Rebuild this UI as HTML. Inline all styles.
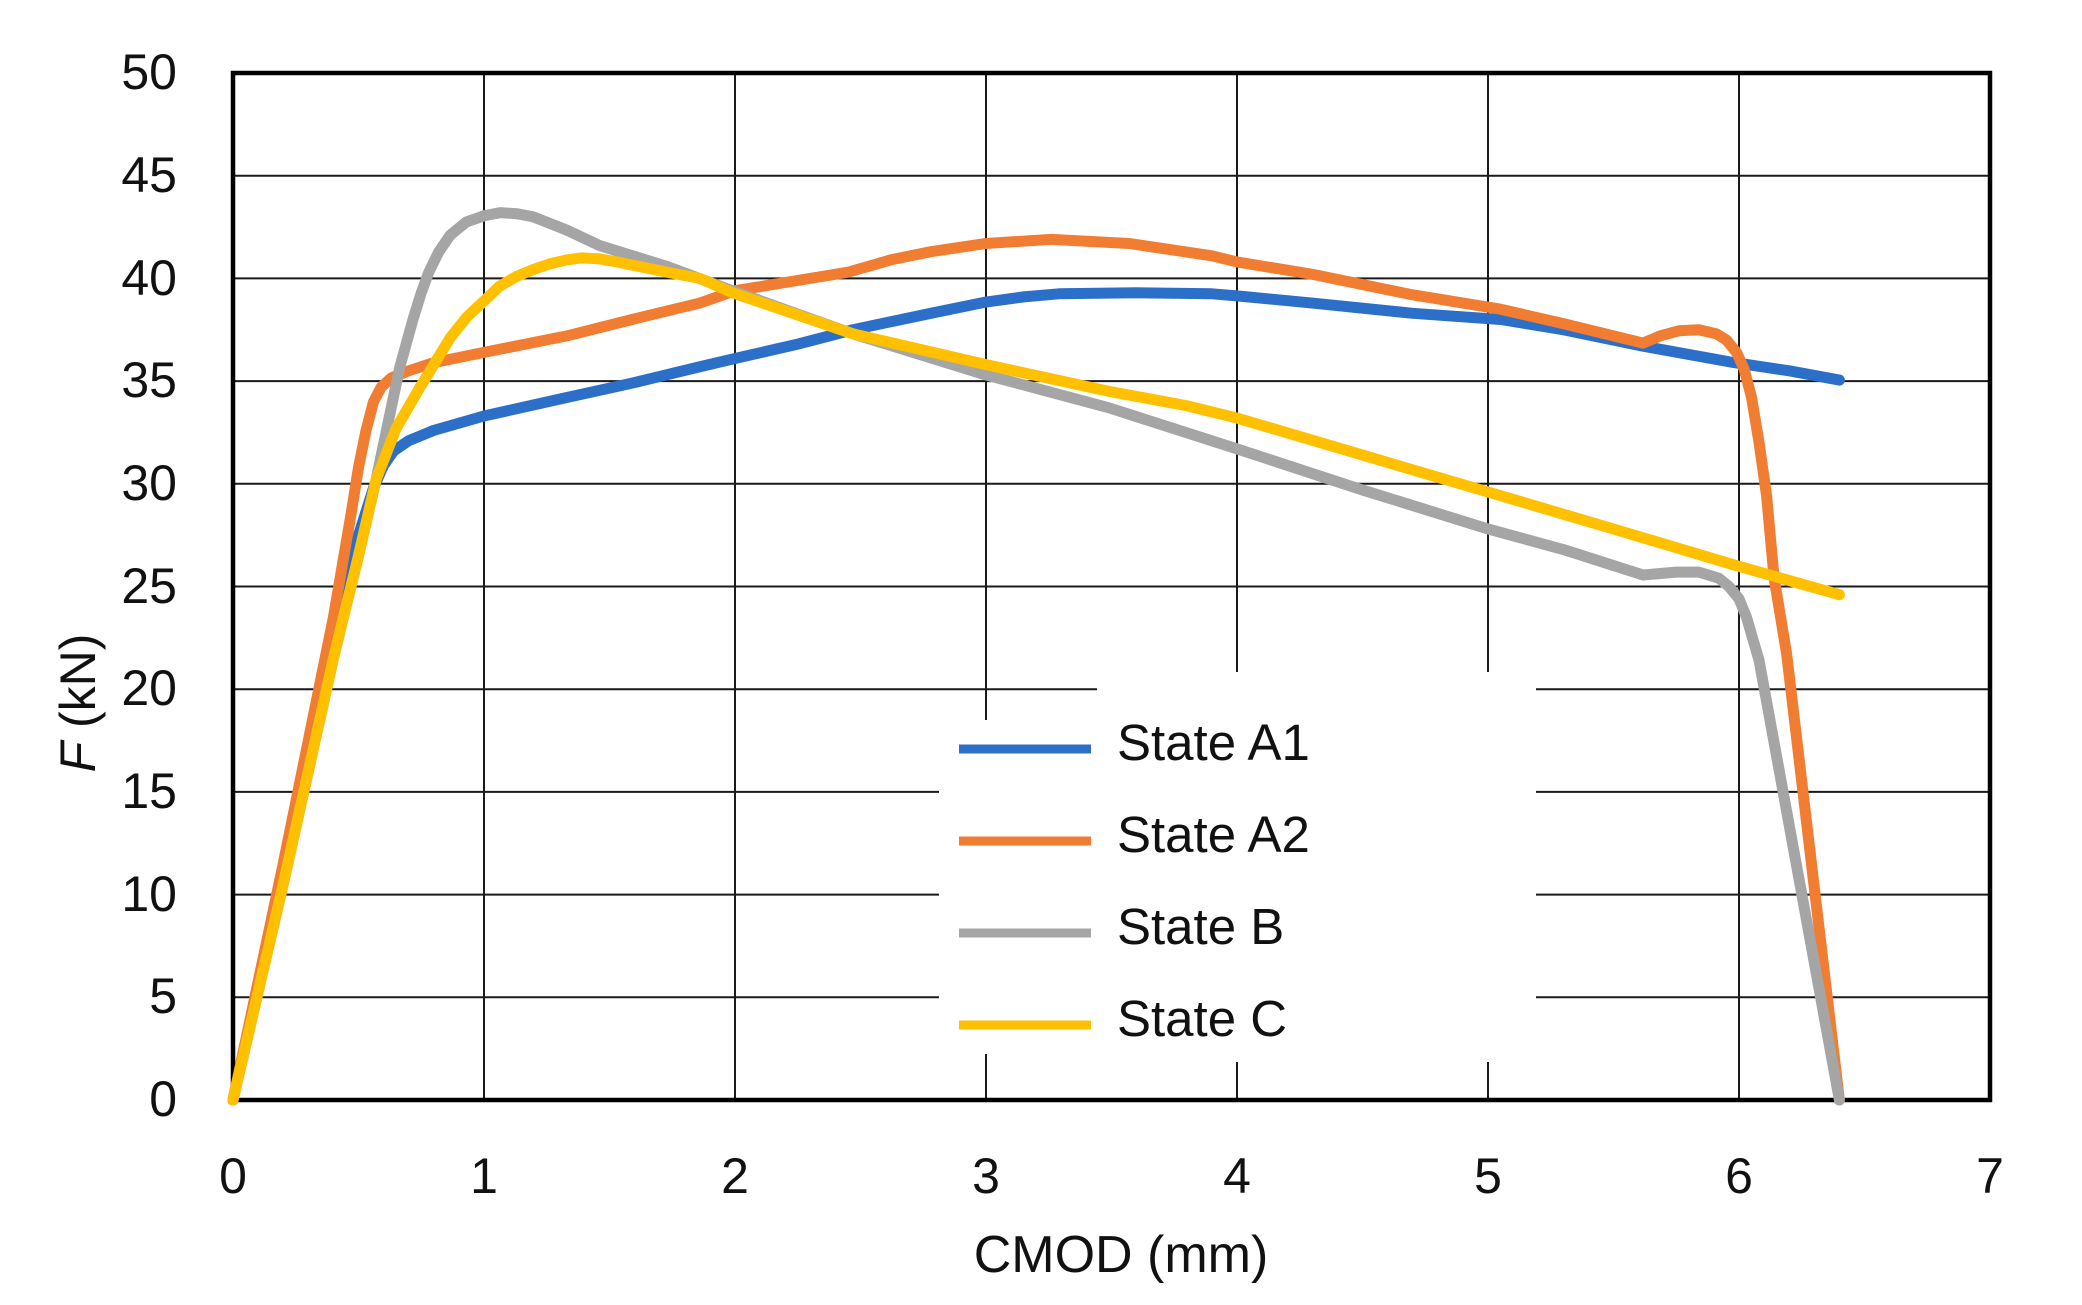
<!DOCTYPE html>
<html><head><meta charset="utf-8"><style>
html,body{margin:0;padding:0;background:#fff;}
svg{display:block;}
text{font-family:"Liberation Sans",Arial,sans-serif;fill:#111;}
</style></head><body>
<svg width="2082" height="1305" viewBox="0 0 2082 1305" xmlns="http://www.w3.org/2000/svg">
<rect x="0" y="0" width="2082" height="1305" fill="#fff"/>
<g stroke="#1a1a1a" stroke-width="2">
<line x1="484" y1="73" x2="484" y2="1100"/>
<line x1="735" y1="73" x2="735" y2="1100"/>
<line x1="986" y1="73" x2="986" y2="1100"/>
<line x1="1237" y1="73" x2="1237" y2="1100"/>
<line x1="1488" y1="73" x2="1488" y2="1100"/>
<line x1="1739" y1="73" x2="1739" y2="1100"/>
<line x1="233" y1="997.3" x2="1990" y2="997.3"/>
<line x1="233" y1="894.6" x2="1990" y2="894.6"/>
<line x1="233" y1="791.9" x2="1990" y2="791.9"/>
<line x1="233" y1="689.2" x2="1990" y2="689.2"/>
<line x1="233" y1="586.5" x2="1990" y2="586.5"/>
<line x1="233" y1="483.8" x2="1990" y2="483.8"/>
<line x1="233" y1="381.1" x2="1990" y2="381.1"/>
<line x1="233" y1="278.4" x2="1990" y2="278.4"/>
<line x1="233" y1="175.7" x2="1990" y2="175.7"/>
</g>
<rect x="939" y="720" width="597" height="334" fill="#fff"/>
<rect x="1097" y="672" width="439" height="390" fill="#fff"/>
<rect x="233" y="73" width="1757" height="1027" fill="none" stroke="#000" stroke-width="4.5"/>

<g transform="translate(233,1100) scale(251,-20.54)" fill="none" stroke-width="11" stroke-linejoin="round" stroke-linecap="round">
<polyline vector-effect="non-scaling-stroke" stroke="#2C6FC8" points="0,0 0.2,11 0.4,22.5 0.5,27.5 0.56,29.8 0.6,30.9 0.64,31.6 0.7,32.1 0.8,32.6 1.0,33.3 1.33,34.2 1.59,34.9 1.86,35.7 2.0,36.1 2.25,36.8 2.47,37.5 2.78,38.3 3.0,38.85 3.15,39.1 3.29,39.25 3.6,39.3 3.9,39.25 4.0,39.15 4.3,38.8 4.7,38.3 5.05,38.0 5.3,37.5 5.618,36.7 5.98,35.9 6.2,35.5 6.4,35.05"/>
<polyline vector-effect="non-scaling-stroke" stroke="#F07D32" points="0,0 0.2,11.5 0.4,23.5 0.47,28.5 0.5,30.8 0.53,32.6 0.56,34.0 0.59,34.7 0.63,35.15 0.7,35.5 0.8,35.9 1.0,36.4 1.33,37.2 1.59,38.0 1.86,38.8 2.0,39.4 2.2,39.8 2.45,40.3 2.62,40.9 2.78,41.3 3.0,41.7 3.26,41.9 3.57,41.7 3.9,41.1 4.0,40.8 4.3,40.2 4.7,39.2 5.05,38.5 5.3,37.8 5.618,36.85 5.685,37.2 5.76,37.45 5.84,37.5 5.91,37.3 5.95,37.0 5.99,36.4 6.02,35.6 6.05,34.2 6.08,32.0 6.11,29.4 6.14,25.4 6.19,21.7 6.4,0"/>
<polyline vector-effect="non-scaling-stroke" stroke="#A5A5A5" points="0,0 0.2,10.5 0.4,21.5 0.5,26.5 0.57,30.2 0.625,33.4 0.665,35.7 0.717,38.0 0.75,39.3 0.78,40.3 0.82,41.3 0.865,42.1 0.93,42.75 1.0,43.05 1.064,43.2 1.13,43.15 1.195,43.0 1.33,42.35 1.46,41.6 1.725,40.6 1.99,39.4 2.47,37.3 3.0,35.3 3.49,33.7 4.0,31.7 4.5,29.7 5.0,27.8 5.3,26.8 5.618,25.56 5.75,25.7 5.84,25.7 5.92,25.4 5.96,25.0 6.0,24.4 6.03,23.5 6.08,21.4 6.4,0"/>
<polyline vector-effect="non-scaling-stroke" stroke="#FFC000" points="0,0 0.2,10.5 0.4,21.5 0.5,26.5 0.57,30.2 0.65,32.7 0.745,34.7 0.865,37.1 0.93,38.1 1.0,38.9 1.06,39.6 1.13,40.1 1.2,40.45 1.26,40.7 1.33,40.9 1.39,41.0 1.46,40.95 1.53,40.8 1.73,40.3 1.86,40.0 1.99,39.3 2.47,37.3 3.0,35.8 3.49,34.5 3.8,33.8 4.0,33.2 4.5,31.4 5.0,29.6 5.5,27.8 5.98,26.05 6.4,24.6"/>
</g>

<g font-size="50" text-anchor="end">
<text x="177" y="1116">0</text>
<text x="177" y="1013">5</text>
<text x="177" y="911">10</text>
<text x="177" y="808">15</text>
<text x="177" y="705">20</text>
<text x="177" y="603">25</text>
<text x="177" y="500">30</text>
<text x="177" y="397">35</text>
<text x="177" y="295">40</text>
<text x="177" y="192">45</text>
<text x="177" y="89">50</text>
</g>
<g font-size="50" text-anchor="middle">
<text x="233" y="1193">0</text>
<text x="484" y="1193">1</text>
<text x="735" y="1193">2</text>
<text x="986" y="1193">3</text>
<text x="1237" y="1193">4</text>
<text x="1488" y="1193">5</text>
<text x="1739" y="1193">6</text>
<text x="1990" y="1193">7</text>
</g>
<text x="1121" y="1272" font-size="52" text-anchor="middle">CMOD (mm)</text>
<text transform="translate(95,703) rotate(-90)" font-size="50" text-anchor="middle"><tspan font-style="italic">F</tspan> (kN)</text>

<g stroke-width="9" stroke-linecap="butt">
<line x1="959" y1="749" x2="1091" y2="749" stroke="#2C6FC8"/>
<line x1="959" y1="841" x2="1091" y2="841" stroke="#F07D32"/>
<line x1="959" y1="933" x2="1091" y2="933" stroke="#A5A5A5"/>
<line x1="959" y1="1025" x2="1091" y2="1025" stroke="#FFC000"/>
</g>
<g font-size="51">
<text x="1117" y="760">State A1</text>
<text x="1117" y="852">State A2</text>
<text x="1117" y="944">State B</text>
<text x="1117" y="1036">State C</text>
</g>
</svg>
</body></html>
